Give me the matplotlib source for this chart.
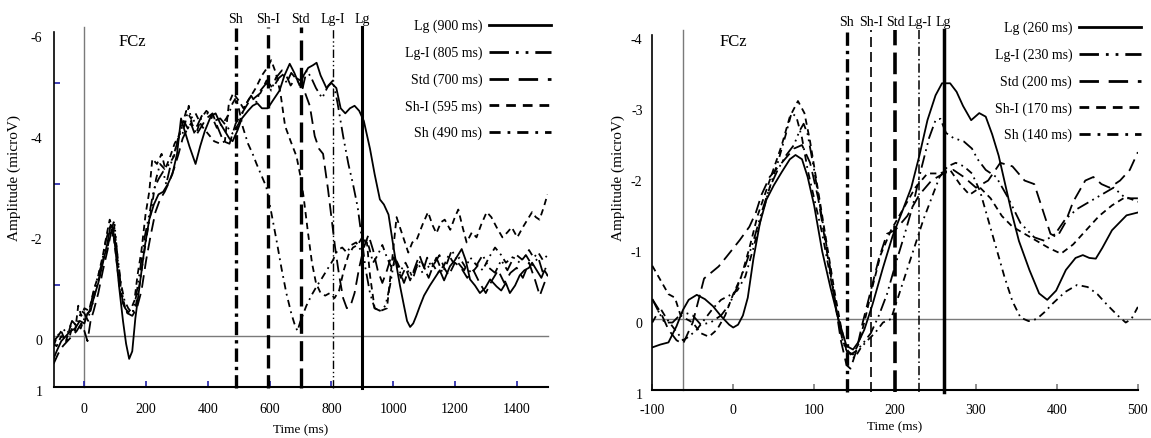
import matplotlib
matplotlib.use('Agg')
import matplotlib.pyplot as plt
import matplotlib.transforms as mtransforms

plt.rcParams['font.family'] = ['Liberation Serif', 'DejaVu Serif']
plt.rcParams['font.size'] = 10
plt.rcParams['axes.unicode_minus'] = False

conds = ['Lg', 'Lg-I', 'Std', 'Sh-I', 'Sh']
long_lat = [900, 805, 700, 595, 490]
short_lat = [260, 230, 200, 170, 140]

# ---- left panel: long-duration set (ms, microV) ----
t_long_lg = [-100, -90, -75, -60, -45, -30, -15, 0, 10, 20, 30, 45, 60, 75, 85, 92, 100, 112, 125, 135,
             145, 155, 165, 180, 195, 210, 225, 240, 255, 270, 285, 300, 313, 325, 340, 360, 375, 390, 410, 425,
             440, 455, 470, 480, 495, 510, 530, 545, 560, 575, 594, 610, 632, 648, 665, 680, 697, 710, 725, 740,
             752, 765, 784, 800, 816, 830, 845, 860, 875, 890, 905, 925, 940, 957, 970, 985, 1000, 1012, 1022, 1035,
             1045, 1055, 1065, 1075, 1087, 1100, 1119, 1135, 1151, 1165, 1184, 1200, 1222, 1235, 1249, 1265, 1281, 1298, 1314, 1335,
             1350, 1365, 1378, 1395, 1410, 1425, 1440, 1450, 1465, 1480, 1490, 1500]
v_long_lg = [0.45, 0.3, 0.1, 0.0, -0.1, -0.15, -0.3, -0.25, -0.45, -0.5, -0.75, -1.05, -1.45, -1.85, -2.2, -2.15, -1.75, -1.0, -0.3, 0.15,
             0.45, 0.3, -0.35, -1.05, -1.75, -2.3, -2.6, -2.8, -2.85, -3.0, -3.2, -3.6, -4.3, -4.05, -3.75, -3.4, -3.75, -4.05, -4.35, -4.4,
             -4.2, -4.05, -3.9, -3.85, -4.05, -4.3, -4.45, -4.55, -4.6, -4.5, -4.5, -4.65, -4.85, -5.15, -5.38, -5.2, -4.95, -5.15, -5.3, -5.35,
             -5.4, -5.15, -4.9, -5.0, -4.9, -4.5, -4.4, -4.5, -4.55, -4.45, -4.25, -3.7, -3.2, -2.7, -2.6, -2.4, -1.8, -1.35, -1.0, -0.6,
             -0.3, -0.18, -0.25, -0.4, -0.6, -0.8, -1.0, -1.15, -1.3, -1.1, -1.38, -1.5, -1.72, -1.5, -1.12, -1.0, -0.85, -0.95, -1.12, -0.98,
             -0.9, -1.05, -0.85, -1.0, -1.2, -1.3, -1.35, -1.45, -1.3, -1.15, -1.3, -1.2]

t_long_lgi = [-100, -85, -70, -55, -40, -25, -10, 0, 12, 25, 40, 55, 70, 82, 90, 98, 108, 120, 132, 145,
              158, 168, 180, 195, 210, 225, 240, 255, 265, 280, 295, 310, 322, 335, 350, 365, 380, 400, 420, 440,
              460, 480, 500, 520, 540, 555, 570, 590, 605, 620, 640, 655, 670, 690, 705, 720, 735, 750, 770, 790,
              805, 820, 838, 855, 870, 885, 897, 910, 925, 940, 957, 975, 990, 1005, 1020, 1035, 1050, 1065, 1080, 1095,
              1110, 1125, 1140, 1160, 1175, 1190, 1210, 1230, 1250, 1270, 1290, 1310, 1330, 1350, 1370, 1390, 1410, 1430, 1450, 1470,
              1485, 1500]
v_long_lgi = [0.1, 0.0, -0.15, -0.05, -0.3, -0.2, -0.5, -0.45, -0.3, -0.75, -1.1, -1.4, -1.9, -2.15, -1.95, -2.2, -1.5, -0.9, -0.55, -0.45,
              -0.5, -0.8, -1.3, -1.95, -2.4, -2.9, -3.1, -3.25, -3.0, -3.4, -3.7, -4.0, -4.25, -4.1, -4.3, -4.15, -4.35, -4.4, -4.25, -4.3,
              -4.15, -4.0, -4.2, -4.55, -4.75, -4.6, -4.85, -5.0, -4.85, -5.1, -5.25, -5.0, -5.2, -5.05, -4.85, -5.25, -5.1, -4.9, -4.7, -4.95,
              -5.05, -4.6, -3.95, -3.4, -3.0, -2.55, -2.0, -1.35, -0.85, -0.55, -0.5, -0.6, -1.0, -1.55, -1.3, -1.05, -1.3, -1.15, -1.45, -1.25,
              -1.55, -1.35, -1.55, -1.25, -1.45, -1.7, -1.45, -1.3, -1.55, -1.4, -1.6, -1.35, -1.25, -1.5, -1.3, -1.55, -1.45, -1.6, -1.4, -1.55,
              -1.25, -1.4]

t_long_std = [-100, -85, -70, -55, -40, -25, -10, 0, 10, 20, 30, 45, 60, 75, 88, 98, 110, 125, 140, 155,
              170, 185, 200, 215, 230, 245, 260, 275, 290, 305, 318, 330, 345, 360, 375, 395, 415, 430, 450, 470,
              490, 510, 530, 550, 570, 590, 610, 630, 650, 668, 685, 700, 715, 730, 746, 760, 773, 789, 800, 812,
              825, 838, 850, 862, 875, 890, 905, 920, 935, 950, 965, 980, 995, 1010, 1025, 1040, 1055, 1070, 1085, 1100,
              1115, 1130, 1150, 1165, 1180, 1200, 1220, 1240, 1260, 1280, 1300, 1320, 1340, 1360, 1380, 1400, 1420, 1440, 1460, 1475,
              1490, 1500]
v_long_std = [0.55, 0.35, 0.2, 0.1, 0.0, -0.1, -0.25, -0.1, 0.1, -0.3, -0.5, -0.85, -1.3, -1.7, -2.1, -1.95, -1.3, -0.65, -0.45, -0.4,
              -0.55, -0.9, -1.5, -2.0, -2.45, -2.7, -2.85, -3.05, -3.3, -3.6, -3.9, -4.05, -4.2, -3.95, -4.1, -4.3, -4.4, -4.15, -3.85, -3.8,
              -4.2, -4.4, -4.6, -4.7, -4.8, -5.05, -4.9, -5.1, -5.2, -4.95, -5.1, -5.05, -4.8, -4.55, -3.95, -3.7, -3.6, -2.9, -2.35, -1.75,
              -1.2, -0.75, -0.55, -0.6, -0.85, -1.35, -1.75, -2.0, -1.7, -1.3, -1.05, -1.3, -1.6, -1.45, -1.15, -1.35, -1.1, -1.35, -1.6, -1.35,
              -1.15, -1.4, -1.6, -1.35, -1.2, -1.45, -1.35, -1.15, -1.3, -1.05, -0.85, -1.1, -1.3, -1.05, -1.25, -1.35, -1.15, -1.45, -1.1, -0.8,
              -1.05, -1.2]

t_long_shi = [-100, -90, -75, -60, -45, -30, -20, -10, 0, 15, 30, 45, 60, 72, 82, 92, 102, 115, 128, 140,
              152, 162, 172, 185, 198, 210, 220, 235, 250, 262, 278, 292, 305, 318, 330, 345, 360, 380, 400, 420,
              440, 455, 468, 482, 500, 515, 535, 555, 575, 592, 605, 620, 635, 650, 668, 687, 700, 710, 724, 737,
              750, 765, 780, 795, 810, 825, 840, 855, 870, 885, 900, 915, 925, 940, 960, 980, 995, 1011, 1030, 1049,
              1062, 1076, 1095, 1113, 1127, 1140, 1155, 1167, 1185, 1200, 1211, 1225, 1238, 1255, 1270, 1285, 1303, 1318, 1335, 1354,
              1370, 1384, 1402, 1420, 1440, 1450, 1462, 1474, 1488, 1500]
v_long_shi = [0.15, 0.2, 0.0, 0.1, -0.2, -0.1, -0.6, -0.4, -0.55, -0.5, -0.9, -1.2, -1.6, -2.0, -2.3, -2.1, -1.6, -0.9, -0.6, -0.45,
              -0.55, -0.7, -1.2, -1.7, -2.4, -2.85, -3.5, -3.4, -3.6, -3.3, -3.55, -3.8, -3.95, -4.2, -4.45, -4.3, -4.4, -4.15, -4.0, -3.85,
              -3.8, -3.85, -4.6, -4.8, -4.65, -4.5, -4.7, -4.9, -5.15, -5.3, -5.45, -5.2, -4.8, -4.15, -3.85, -3.55, -3.15, -2.75, -2.05, -1.45,
              -1.05, -0.85, -0.8, -0.85, -0.75, -0.9, -1.3, -1.6, -1.75, -1.8, -1.95, -1.85, -1.2, -0.55, -0.5, -0.55, -1.4, -2.35, -2.0, -1.65,
              -1.85, -1.9, -2.2, -2.45, -2.2, -2.03, -2.25, -2.3, -2.1, -2.35, -2.5, -2.15, -1.85, -2.05, -1.95, -2.2, -2.45, -2.35, -2.15, -1.95,
              -2.05, -2.15, -1.95, -2.15, -2.35, -2.45, -2.35, -2.3, -2.55, -2.8]

t_long_sh = [-100, -88, -75, -62, -50, -38, -25, -12, 0, 12, 25, 38, 50, 62, 75, 85, 95, 105, 118, 130,
             142, 155, 165, 178, 190, 205, 218, 232, 245, 260, 275, 290, 303, 318, 330, 338, 348, 362, 378, 395,
             412, 430, 448, 465, 480, 490, 500, 513, 530, 545, 557, 575, 589, 605, 622, 638, 654, 670, 680, 690,
             700, 719, 735, 752, 770, 790, 805, 820, 835, 850, 865, 880, 895, 910, 922, 935, 950, 965, 980, 995,
             1010, 1025, 1040, 1060, 1075, 1090, 1105, 1125, 1145, 1165, 1180, 1195, 1215, 1235, 1255, 1275, 1290, 1310, 1330, 1350,
             1365, 1385, 1400, 1420, 1440, 1455, 1470, 1485, 1500]
v_long_sh = [0.2, 0.0, -0.1, 0.1, 0.05, -0.2, -0.25, -0.15, -0.35, -0.45, -0.6, -0.95, -1.2, -1.55, -1.75, -2.05, -2.25, -1.7, -1.05, -0.7,
             -0.55, -0.45, -0.55, -1.0, -1.5, -2.1, -2.55, -3.1, -3.4, -3.3, -3.4, -3.55, -3.9, -4.0, -4.3, -4.55, -4.2, -4.0, -4.3, -4.45,
             -4.35, -4.1, -4.2, -4.35, -4.6, -4.7, -4.5, -4.13, -3.8, -3.6, -3.41, -3.15, -2.95, -2.45, -1.9, -1.35, -0.85, -0.45, -0.25, -0.1,
             -0.3, -0.6, -0.8, -0.98, -1.15, -1.35, -1.5, -1.7, -1.75, -1.65, -1.8, -1.85, -1.7, -1.95, -1.75, -1.45, -1.6, -1.8, -1.55, -1.35,
             -1.5, -1.3, -1.45, -1.2, -1.35, -1.5, -1.3, -1.45, -1.25, -1.4, -1.6, -1.45, -1.55, -1.35, -1.25, -1.4, -1.3, -1.55, -1.75, -1.6,
             -1.45, -1.55, -1.6, -1.5, -1.7, -1.55, -1.65, -1.5, -1.6]

# ---- right panel: short-duration set ----
t_short_lg = [-100, -90, -80, -70, -62, -55, -45, -35, -25, -15, -5, 0, 6, 12, 18, 25, 33, 41, 50, 60,
              70, 77, 85, 92, 100, 110, 120, 130, 140, 148, 155, 162, 172, 185, 197, 210, 220, 230, 240, 250,
              258, 268, 276, 284, 294, 304, 312, 320, 328, 336, 344, 353, 366, 378, 388, 399, 411, 423, 432, 440,
              448, 456, 468, 486, 500]
v_short_lg = [0.4, 0.36, 0.33, 0.1, -0.13, -0.27, -0.34, -0.28, -0.18, -0.04, 0.08, 0.12, 0.08, -0.05, -0.3, -0.85, -1.35, -1.68, -1.88, -2.07,
              -2.25, -2.31, -2.25, -2.0, -1.6, -0.95, -0.45, 0.0, 0.38, 0.43, 0.32, 0.15, -0.2, -0.72, -1.17, -1.55, -1.85, -2.3, -2.8, -3.15,
              -3.32, -3.32, -3.2, -3.0, -2.8, -2.9, -2.85, -2.6, -2.3, -1.9, -1.5, -1.1, -0.69, -0.36, -0.27, -0.4, -0.69, -0.86, -0.9, -0.86,
              -0.85, -1.0, -1.25, -1.46, -1.5]

t_short_lgi = [-100, -92, -85, -75, -62, -50, -40, -28, -15, -5, 5, 15, 25, 35, 45, 55, 65, 75, 82, 87,
               92, 100, 110, 120, 128, 136, 145, 152, 160, 170, 180, 190, 200, 212, 222, 232, 242, 250, 256, 263,
               272, 285, 295, 302, 312, 325, 340, 355, 372, 385, 398, 410, 425, 440, 455, 470, 485, 500]
v_short_lgi = [-0.28, -0.1, 0.05, 0.05, -0.1, -0.05, 0.08, 0.05, -0.05, -0.2, -0.45, -0.75, -1.1, -1.5, -1.85, -2.1, -2.3, -2.45, -2.65, -2.75,
               -2.6, -2.1, -1.4, -0.7, -0.1, 0.35, 0.5, 0.45, 0.35, 0.2, -0.05, -0.35, -0.75, -1.2, -1.6, -2.1, -2.55, -2.8, -2.82, -2.62,
               -2.55, -2.5, -2.4, -2.25, -2.1, -2.0, -1.7, -1.35, -1.15, -1.1, -1.2, -1.4, -1.55, -1.65, -1.75, -1.85, -1.7, -1.7]

t_short_std = [-100, -90, -80, -70, -62, -50, -36, -18, -8, 8, 20, 28, 35, 45, 60, 75, 85, 95, 105, 115,
               125, 133, 140, 145, 152, 160, 170, 180, 190, 200, 215, 230, 245, 260, 272, 285, 300, 315, 330, 345,
               360, 372, 382, 392, 400, 410, 420, 435, 445, 455, 465, 478, 490, 500]
v_short_std = [-0.28, -0.1, 0.15, 0.3, 0.35, 0.05, -0.57, -0.74, -0.88, -1.11, -1.3, -1.5, -1.75, -2.0, -2.2, -2.4, -2.45, -2.2, -1.7, -1.0,
               -0.3, 0.3, 0.65, 0.7, 0.45, 0.05, -0.4, -0.85, -1.2, -1.25, -1.45, -1.75, -1.95, -2.05, -2.1, -2.0, -1.85, -1.95, -2.2, -2.15,
               -1.95, -1.9, -1.55, -1.2, -1.15, -1.35, -1.65, -1.95, -2.0, -1.9, -1.85, -1.95, -2.1, -2.35]

t_short_shi = [-100, -90, -80, -72, -65, -58, -50, -40, -30, -20, -10, 0, 10, 20, 30, 45, 60, 70, 80, 88,
               95, 105, 115, 125, 133, 140, 148, 155, 163, 172, 182, 195, 210, 225, 240, 255, 268, 280, 292, 305,
               318, 332, 345, 360, 375, 390, 405, 420, 436, 452, 468, 485, 500]
v_short_shi = [-0.75, -0.55, -0.35, -0.3, -0.05, 0.0, 0.05, 0.2, 0.25, 0.15, -0.05, -0.35, -0.6, -1.0, -1.45, -1.95, -2.45, -2.85, -3.07, -2.9,
               -2.5, -1.8, -1.1, -0.4, 0.1, 0.45, 0.5, 0.35, 0.0, -0.45, -0.9, -1.25, -1.55, -1.85, -2.05, -2.05, -2.1, -1.9, -1.75, -1.85,
               -1.7, -1.45, -1.3, -1.2, -1.1, -1.0, -0.92, -1.05, -1.25, -1.45, -1.6, -1.72, -1.65]

t_short_sh = [-100, -90, -82, -72, -62, -55, -45, -35, -25, -15, -5, 5, 15, 25, 35, 45, 55, 65, 72, 78,
              85, 92, 100, 110, 120, 128, 135, 142, 150, 158, 166, 175, 185, 195, 205, 215, 225, 235, 245, 255,
              265, 275, 285, 295, 305, 315, 325, 335, 345, 355, 365, 375, 385, 395, 410, 425, 438, 450, 462, 475,
              485, 492, 500]
v_short_sh = [0.05, -0.15, 0.0, 0.15, 0.3, 0.25, 0.15, 0.0, -0.15, -0.27, -0.33, -0.4, -0.6, -1.0, -1.45, -1.85, -2.2, -2.6, -2.9, -2.85,
              -2.55, -2.1, -1.7, -1.2, -0.6, -0.1, 0.3, 0.5, 0.55, 0.4, 0.3, 0.2, 0.05, 0.0, -0.35, -0.7, -1.05, -1.4, -1.7, -2.0,
              -2.15, -2.2, -2.15, -2.05, -1.8, -1.4, -1.0, -0.6, -0.25, -0.02, 0.03, 0.0, -0.1, -0.22, -0.38, -0.48, -0.45, -0.35, -0.2, -0.05,
              0.05, 0.0, -0.17]

long_waves = [(t_long_lg, v_long_lg), (t_long_lgi, v_long_lgi), (t_long_std, v_long_std),
              (t_long_shi, v_long_shi), (t_long_sh, v_long_sh)]
short_waves = [(t_short_lg, v_short_lg), (t_short_lgi, v_short_lgi), (t_short_std, v_short_std),
               (t_short_shi, v_short_shi), (t_short_sh, v_short_sh)]

curve_ls = ['-', (0, (7, 2.5, 1, 2.5, 1, 2.5)), (0, (7, 3.5)), (0, (3.5, 2.5)), (0, (4, 2.5, 1, 2.5))]

# offset marker lines (width, style) for each panel
long_marks = [(2.2, '-'), (1.0, (0, (6, 2, 1, 2, 1, 2))), (2.4, (0, (6, 2.2))), (2.4, (0, (4, 2))), (2.4, (0, (4, 1.5, 1, 1.5)))]
short_marks = [(2.5, '-'), (1.1, (0, (6, 2, 1, 2))), (2.6, (0, (6, 2))), (1.2, (0, (6, 3))), (2.4, (0, (4, 1.5, 1, 1.5)))]


def draw(ax, waves, lats, marks, zero_x, leg_anchor, hline_end):
    ax.axhline(0, color='#7a7a7a', lw=1.0, xmax=hline_end, clip_on=False, zorder=1)
    ax.axvline(zero_x, color='#7a7a7a', lw=1.0, ymax=1.015, clip_on=False, zorder=1)
    for name, lat, (t, v), ls in zip(conds, lats, waves, curve_ls):
        ax.plot(t, v, color='black', lw=1.3, ls=ls, label=f'{name} ({lat} ms)')
    for name, lat, (w, ls) in zip(conds, lats, marks):
        ax.axvline(lat, color='black', lw=w, ls=ls, ymin=-0.005, ymax=1.015, clip_on=False)
        ax.text(lat, 1.035, name, transform=ax.get_xaxis_transform(), ha='center', va='center', fontsize=10)
    leg = ax.legend(loc='upper right', bbox_to_anchor=leg_anchor, bbox_transform=fig.transFigure,
                    markerfirst=False, frameon=False, handlelength=4.5, handletextpad=0.45,
                    labelspacing=0.95, borderpad=0, borderaxespad=0, fontsize=10)
    for ln in leg.get_lines():
        ln.set_linewidth(2.0)
    for s in ['top', 'right']:
        ax.spines[s].set_visible(False)
    ax.spines['left'].set_linewidth(1.2)
    ax.spines['bottom'].set_linewidth(1.5)
    ax.set_ylabel('Amplitude (microV)', fontsize=11)


fig = plt.figure(figsize=(11.51, 4.38), dpi=100)
ax1 = fig.add_axes([0.0465, 0.1171, 0.4292, 0.809])
ax2 = fig.add_axes([0.5667, 0.1096, 0.4219, 0.8105])

draw(ax1, long_waves, long_lat, long_marks, 0, (551 / 1151, 1 - 20 / 438), 1.0)
ax1.set_xlim(-100, 1500)
ax1.set_ylim(1, -6)
ax1.set_xticks(range(0, 1401, 200))
ax1.set_yticks([-6, -4, -2, 0, 1])
ax1.set_yticks([-6, -5, -4, -3, -2, -1], minor=True)
ax1.tick_params(axis='x', direction='in', color='#1f1fa8', length=4, width=1.2, pad=12)
ax1.tick_params(axis='y', which='major', length=0, pad=8)
ax1.tick_params(axis='y', which='minor', direction='in', color='#1f1fa8', length=4, width=1.2)
ax1.text(156, -5.8, 'FCz', fontsize=12, ha='center', va='center')
ax1.yaxis.set_label_coords(-0.0658, 0.59)
ax1.set_xlabel('Time (ms)', fontsize=9.5, labelpad=6)

draw(ax2, short_waves, short_lat, short_marks, -62, (1141 / 1151, 1 - 22 / 438), 1.035)
ax2.set_xlim(-100, 500)
ax2.set_ylim(1, -4)
ax2.set_xticks(range(-100, 501, 100))
ax2.set_yticks([-4, -3, -2, -1, 0, 1])
ax2.set_yticks([-4, 0], minor=True)
ax2.tick_params(axis='x', direction='in', color='#7a7a7a', length=4, width=1.2, pad=10)
ax2.tick_params(axis='y', which='major', length=0, pad=7)
ax2.tick_params(axis='y', which='minor', direction='in', color='#555555', length=4, width=1.2)
ax2.text(0, -3.9, 'FCz', fontsize=12, ha='center', va='center')
ax2.yaxis.set_label_coords(-0.0562, 0.597)
ax2.set_xlabel('Time (ms)', fontsize=9.5, labelpad=3)

# y tick labels sit a little below their ticks in the original
shift = mtransforms.ScaledTranslation(0, -3 / 72, fig.dpi_scale_trans)
for ax in (ax1, ax2):
    for lab in ax.get_yticklabels():
        lab.set_transform(lab.get_transform() + shift)

fig.savefig('out.png', dpi=100)
